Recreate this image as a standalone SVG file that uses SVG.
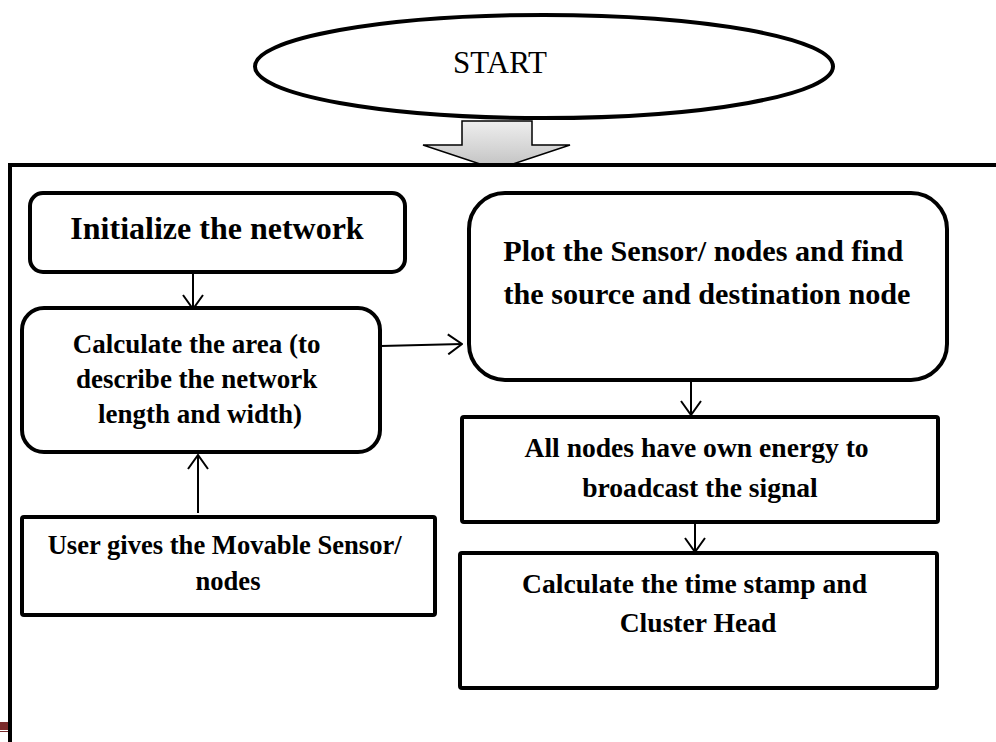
<svg xmlns="http://www.w3.org/2000/svg" width="996" height="742" viewBox="0 0 996 742">
  <defs>
    <linearGradient id="blockFill" x1="0" y1="0" x2="0" y2="1">
      <stop offset="0" stop-color="#eeeeee"/>
      <stop offset="0.6" stop-color="#d6d6d6"/>
      <stop offset="1" stop-color="#c4c4c4"/>
    </linearGradient>
    <marker id="openHead" viewBox="0 0 16 22" refX="15" refY="11" markerWidth="16" markerHeight="22" markerUnits="userSpaceOnUse" orient="auto">
      <path d="M1,1 L15,11 L1,21" fill="none" stroke="#000" stroke-width="2"/>
    </marker>
  </defs>
  <style>
    .box { fill: #fff; stroke: #000; stroke-width: 4; }
    .frame { fill: none; stroke: #000; stroke-width: 4; }
    .conn { fill: none; stroke: #000; stroke-width: 2; marker-end: url(#openHead); }
    .lbl { font-family: "Liberation Serif", "Times New Roman", serif; font-weight: bold; fill: #000; text-anchor: middle; }
    .big { font-size: 32px; }
    .mid { font-size: 27px; }
  </style>

  <rect width="996" height="742" fill="#fff"/>

  <!-- start terminal -->
  <g id="start">
    <ellipse cx="544" cy="66.5" rx="289" ry="51.5" class="box"/>
    <text x="500" y="73" font-family="Liberation Serif, Times New Roman, serif" font-size="31" text-anchor="middle" fill="#000">START</text>
  </g>

  <!-- block arrow into the process frame -->
  <g id="start-arrow">
    <polygon points="462,121 532,121 532,145 570,145 510,165 483,165 423,145 462,145" fill="url(#blockFill)" stroke="#000" stroke-width="1.5" stroke-linejoin="miter"/>
  </g>

  <!-- process frame -->
  <g id="frame">
    <path d="M996,165 L10,165 L10,742" class="frame"/>
    <rect x="0" y="722" width="8" height="8" fill="#7a2b2b"/>
    <line x1="0" y1="731.5" x2="8" y2="731.5" stroke="#7a2b2b" stroke-width="1"/>
  </g>

  <g id="init">
    <rect x="30" y="193" width="375" height="79" rx="13" class="box"/>
    <text x="217" y="239" class="lbl big">Initialize the network</text>
  </g>

  <g id="area">
    <rect x="22" y="308" width="358" height="144" rx="22" class="box"/>
    <text class="lbl mid" x="200">
      <tspan x="200" y="353">Calculate the area (to</tspan>
      <tspan x="200" y="388">describe the network</tspan>
      <tspan x="200" y="423">length and width)</tspan>
    </text>
  </g>

  <g id="plot">
    <rect x="469" y="193" width="478" height="187" rx="36" class="box"/>
    <text class="lbl" font-size="30.2">
      <tspan x="707" y="261">Plot the Sensor/ nodes and find</tspan>
      <tspan x="707" y="304">the source and destination node</tspan>
    </text>
  </g>

  <g id="energy">
    <rect x="462" y="417" width="476" height="105" rx="2" class="box"/>
    <text class="lbl" font-size="27.6">
      <tspan x="700" y="457">All nodes have own energy to</tspan>
      <tspan x="700" y="497">broadcast the signal</tspan>
    </text>
  </g>

  <g id="timestamp">
    <rect x="460" y="553" width="477" height="135" rx="2" class="box"/>
    <text class="lbl" font-size="27.6">
      <tspan x="698" y="593">Calculate the time stamp and</tspan>
      <tspan x="698" y="632">Cluster Head</tspan>
    </text>
  </g>

  <g id="user">
    <rect x="22" y="517" width="413" height="98" rx="2" class="box"/>
    <text class="lbl" font-size="26.6">
      <tspan x="228" y="554">User gives the Movable Sensor/</tspan>
      <tspan x="228" y="590">nodes</tspan>
    </text>
  </g>

  <!-- connectors -->
  <g id="connectors">
    <line x1="193" y1="273" x2="193" y2="309" class="conn"/>
    <line x1="381" y1="346" x2="462" y2="344" class="conn"/>
    <line x1="691" y1="381" x2="691" y2="415" class="conn"/>
    <line x1="695" y1="523" x2="695" y2="552" class="conn"/>
    <line x1="198" y1="513" x2="198" y2="455" class="conn"/>
  </g>
</svg>
